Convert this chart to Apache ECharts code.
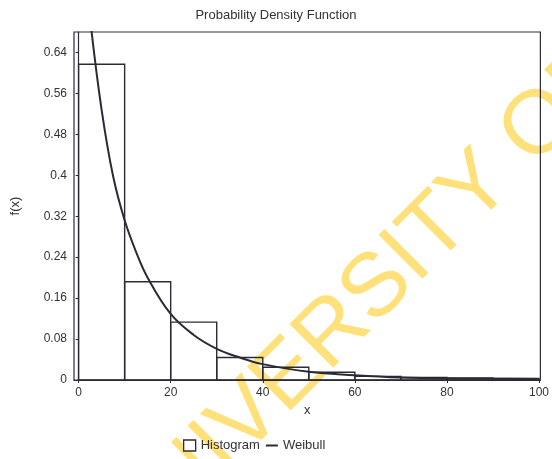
<!DOCTYPE html>
<html>
<head>
<meta charset="utf-8">
<script src="https://cdn.jsdelivr.net/npm/echarts@6/dist/echarts.min.js"></script>
<style>
  html, body { margin: 0; padding: 0; background: #fff; }
  #chart { width: 552px; height: 459px; }
</style>
</head>
<body>
<div id="chart"></div>
<script>
// histogram bins (width 10) and heights
const binEdges = [0, 10, 20, 30, 40, 50, 60, 70, 80, 90, 100];
const histValues = [0.617, 0.192, 0.113, 0.044, 0.025, 0.015, 0.007, 0.005, 0.004, 0.003];

// fitted Weibull curve
const curveX = [2.7, 5, 7.5, 10, 12.5, 15, 20, 25, 30, 35, 40, 50, 60, 70, 80, 90, 100];
const curveY = [0.69, 0.528, 0.398, 0.312, 0.25, 0.20, 0.129, 0.088, 0.061, 0.044, 0.031, 0.016, 0.0095, 0.005, 0.003, 0.0025, 0.002];

const xTicks = [0, 20, 40, 60, 80, 100];
const yTicks = [0, 0.08, 0.16, 0.24, 0.32, 0.4, 0.48, 0.56, 0.64];

const ink = '#2b2b36';
const font = 'Liberation Sans, Arial, sans-serif';

const histData = histValues.map((v, i) => [binEdges[i], binEdges[i + 1], v]);
const curveData = curveX.map((x, i) => [x, curveY[i]]);

const chart = echarts.init(document.getElementById('chart'));
const option = {
    backgroundColor: '#fff',
    textStyle: { fontFamily: font, color: '#333' },
    title: {
        text: 'Probability Density Function',
        left: 'center',
        top: 9,
        padding: 0,
        textStyle: { fontSize: 13, fontWeight: 'normal', color: '#333', fontFamily: font }
    },
    // scanned-page watermark
    graphic: [{
        type: 'text',
        z: -10,
        silent: true,
        x: 360,
        y: 306,
        rotation: Math.PI / 4,
        style: {
            text: 'UNIVERSITY OF',
            fontFamily: font,
            fontSize: 90,
            fill: 'rgba(255, 220, 100, 0.85)',
            textAlign: 'center',
            textVerticalAlign: 'middle'
        }
    }],
    legend: {
        left: 183,
        top: 439,
        padding: 0,
        itemWidth: 12,
        itemHeight: 11,
        itemGap: 6,
        textStyle: { fontSize: 13, color: '#333', fontFamily: font },
        data: [
            { name: 'Histogram', icon: 'rect', itemStyle: { color: '#fff', borderColor: ink, borderWidth: 1.3 } },
            { name: 'Weibull', icon: 'path://M0,0L12,0L12,2L0,2Z' }
        ]
    },
    grid: {
        left: 74, right: 11, top: 32, bottom: 79,
        show: true,
        borderColor: ink,
        borderWidth: 1.2,
        backgroundColor: 'transparent'
    },
    xAxis: {
        type: 'value',
        min: -1,
        max: 100.3,
        name: 'x',
        nameLocation: 'middle',
        nameGap: 24,
        nameTextStyle: { fontSize: 13, color: '#333' },
        axisLine: { show: true, lineStyle: { color: ink, width: 1.2 } },
        axisTick: { show: true, length: 3, customValues: xTicks, lineStyle: { color: ink } },
        axisLabel: { customValues: xTicks, fontSize: 12, color: '#333', margin: 7 },
        splitLine: { show: false }
    },
    yAxis: {
        type: 'value',
        min: 0,
        max: 0.68,
        name: 'f(x)',
        nameLocation: 'middle',
        nameGap: 52,
        nameTextStyle: { fontSize: 13, color: '#333' },
        axisLine: { show: true, lineStyle: { color: ink, width: 1.2 } },
        axisTick: { show: true, length: 3, customValues: yTicks, lineStyle: { color: ink } },
        axisLabel: {
            customValues: yTicks,
            fontSize: 12,
            color: '#333',
            margin: 7,
            formatter: (v) => String(Math.round(v * 100) / 100)
        },
        splitLine: { show: false }
    },
    series: [
        {
            name: 'Histogram',
            type: 'custom',
            itemStyle: { color: '#fff', borderColor: ink },
            data: histData,
            encode: { x: [0, 1], y: 2 },
            renderItem: (params, api) => {
                const p0 = api.coord([api.value(0), api.value(2)]);
                const p1 = api.coord([api.value(1), 0]);
                return {
                    type: 'rect',
                    shape: { x: p0[0], y: p0[1], width: p1[0] - p0[0], height: p1[1] - p0[1] },
                    style: { fill: 'rgba(255,255,255,0)', stroke: ink, lineWidth: 1.4 }
                };
            },
            z: 2
        },
        {
            name: 'Weibull',
            type: 'line',
            data: curveData,
            showSymbol: false,
            symbol: 'none',
            smooth: 0.4,
            clip: true,
            lineStyle: { color: ink, width: 2 },
            itemStyle: { color: ink },
            z: 3
        }
    ]
};
chart.setOption(option);
</script>
</body>
</html>
